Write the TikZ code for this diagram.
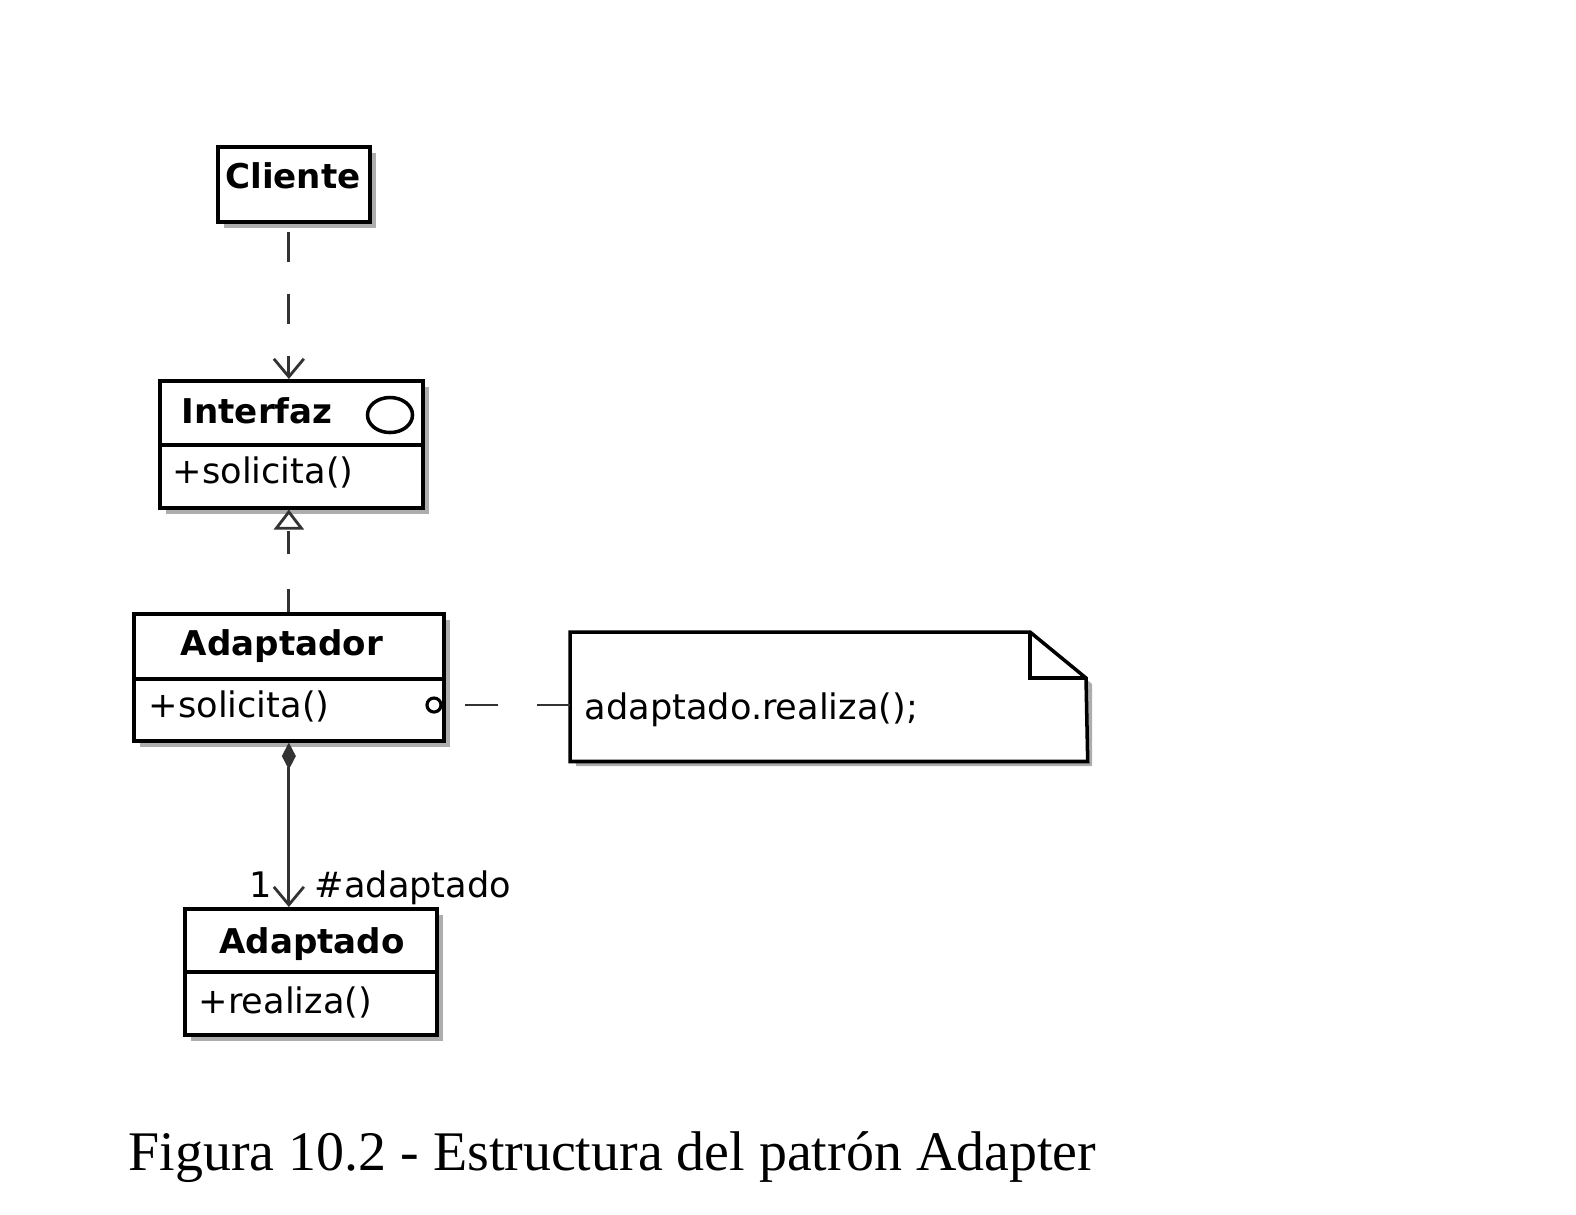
\documentclass[tikz,border=0pt]{standalone}
\usepackage{fontspec}
\setmainfont{Liberation Serif}
\newfontfamily\umlfont{DejaVu Sans}
\usetikzlibrary{arrows.meta,shadows,shapes.geometric}
\tikzset{
  umltext/.style={font=\umlfont\fontsize{10}{12}\selectfont, inner sep=0pt},
  classpart/.style={draw, line width=1pt, fill=white, rectangle, inner sep=0pt, anchor=north west,
    drop shadow={shadow xshift=0.06cm, shadow yshift=-0.06cm, fill=black!40, opacity=0.8}},
  titletext/.style={font=\umlfont\bfseries\fontsize{9.7}{12}\selectfont, inner sep=0pt},
  optext/.style={umltext, anchor=base west},
  conn/.style={line width=0.8pt, draw=black!80},
}
\begin{document}
\begin{tikzpicture}[x=0.01cm,y=-0.01cm]
\useasboundingbox (0,0) rectangle (1576,1214);
% Cliente
\node[classpart, minimum width=1.52cm, minimum height=0.75cm] (cliente) at (216,145) {};
\node[titletext, anchor=base] (clientet) at (293,188) {Cliente};
% Interfaz
\node[classpart, minimum width=2.63cm, minimum height=0.64cm] (ifzh) at (158,379) {};
\node[classpart, minimum width=2.63cm, minimum height=0.63cm] (ifzb) at (158,443) {};
\node[titletext, anchor=base west] (ifzt) at (181,423) {Interfaz};
\node[draw, line width=1pt, ellipse, minimum width=0.45cm, minimum height=0.35cm, inner sep=0pt] (ifzicon) at (390,415) {};
\node[optext] (ifzop) at (172,483) {+solicita()};
% Adaptador
\node[classpart, minimum width=3.10cm, minimum height=0.65cm] (adph) at (132,612) {};
\node[classpart, minimum width=3.10cm, minimum height=0.62cm] (adpb) at (132,677) {};
\node[titletext, anchor=base] (adpt) at (282,655) {Adaptador};
\node[optext] (adpop) at (148,717) {+solicita()};
% Adaptado
\node[classpart, minimum width=2.52cm, minimum height=0.63cm] (adoh) at (183,907) {};
\node[classpart, minimum width=2.52cm, minimum height=0.63cm] (adob) at (183,970) {};
\node[titletext, anchor=base] (adot) at (312,953) {Adaptado};
\node[optext] (adoop) at (198,1013) {+realiza()};
% Note
\node[minimum width=5.16cm, minimum height=1.28cm, inner sep=0pt, anchor=north west] (note) at (570,632) {};
\fill[black!40, opacity=0.8] (576,638) -- (1036,638) -- (1092,684) -- (1092,766) -- (576,766) -- cycle;
\draw[line width=1pt, fill=white] (note.north west) -- (1030,632) -- (1086,678) -- (note.south east) -- (note.south west) -- cycle;
\draw[line width=1pt] (1030,632) -- (1030,678) -- (1086,678);
\node[optext] (notet) at (584,719) {adaptado.realiza();};
% anchor circle
\node[draw, line width=0.9pt, circle, minimum size=0.14cm, inner sep=0pt, fill=white] (anch) at (434,705) {};
% connectors
\draw[conn, dash pattern=on 0.3cm off 0.32cm, -{Straight Barb[length=0.18cm,width=0.3cm]}]
  (cliente.south -| adph.north) ++(0,8) -- (ifzh.north -| adph.north);
\draw[conn, dash pattern=on 0.23cm off 0.35cm, -{Triangle[open,length=0.2cm,width=0.3cm,fill=white]}]
  (adph.north) -- (ifzb.south -| adph.north);
\draw[conn, {Diamond[length=0.27cm,width=0.14cm]}-{Straight Barb[length=0.18cm,width=0.3cm]}]
  (adpb.south) -- (adoh.north -| adpb.south);
\draw[conn, dash pattern=on 0.33cm off 0.39cm] (note.west |- anch) -- (anch.east);
% labels
\node[umltext, anchor=base east] (mult) at (273,897) {1};
\node[umltext, anchor=base west] (role) at (314,897) {\#adaptado};
% caption
\node[anchor=base west, inner sep=0pt, font=\fontsize{15.9}{19}\selectfont] (caption) at (128,1170) {Figura 10.2 - Estructura del patrón Adapter};
\end{tikzpicture}
\end{document}
